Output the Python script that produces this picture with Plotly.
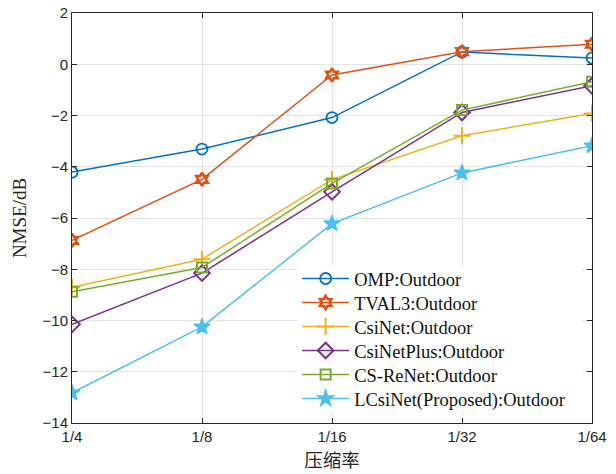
import plotly.graph_objects as go

categories = ["1/4", "1/8", "1/16", "1/32", "1/64"]
omp = [-4.21, -3.31, -2.08, 0.48, 0.24]
tval3 = [-6.87, -4.49, -0.42, 0.49, 0.78]
csinet = [-8.70, -7.61, -4.50, -2.79, -1.92]
csinetplus = [-10.15, -8.15, -4.98, -1.88, -0.84]
csrenet = [-8.88, -7.93, -4.65, -1.79, -0.68]
lcsinet = [-12.82, -10.25, -6.22, -4.24, -3.18]

series = [
    ("OMP:Outdoor", omp, "#0072BD", "circle-open", 11, 1.8),
    ("TVAL3:Outdoor", tval3, "#D95319", "hexagram-open", 10, 2.6),
    ("CsiNet:Outdoor", csinet, "#EDB120", "cross-thin-open", 12, 2),
    ("CsiNetPlus:Outdoor", csinetplus, "#7E2F8E", "diamond-open", 12, 2),
    ("CS-ReNet:Outdoor", csrenet, "#77AC30", "square-open", 10, 2),
    ("LCsiNet(Proposed):Outdoor", lcsinet, "#4DBEEE", "star", 12, 1.5),
]

# plot area in pixels (for legend placement)
PLOT_TOP, PLOT_BOTTOM = 13, 423
PLOT_H = PLOT_BOTTOM - PLOT_TOP
legend_rows_px = [279, 303, 327, 351, 375, 399]

fig = go.Figure()
legend_font = dict(family="Liberation Serif, Times New Roman, serif", size=18.5, color="#111111")
layout_legends = {}
for i, (name, vals, color, sym, sz, lw) in enumerate(series):
    key = "legend" if i == 0 else f"legend{i+1}"
    fig.add_trace(go.Scatter(
        x=categories, y=vals, name=name, mode="lines+markers",
        line=dict(color=color, width=1.5),
        marker=dict(symbol=sym, size=sz, color=color,
                    line=dict(color=color, width=lw)),
        legend=key,
    ))
    layout_legends[key] = dict(
        x=0.433, y=(PLOT_BOTTOM - legend_rows_px[i]) / PLOT_H,
        xanchor="left", yanchor="middle",
        bgcolor="rgba(0,0,0,0)", borderwidth=0,
        font=legend_font, itemwidth=47,
    )

axis_common = dict(
    showline=True, linecolor="#262626", linewidth=1, mirror="ticks",
    ticks="inside", ticklen=5, tickcolor="#262626",
    showgrid=True, gridcolor="#e3e3e3", gridwidth=1,
    zeroline=False, automargin=False,
    tickfont=dict(family="Arial, Liberation Sans, sans-serif", size=15, color="#262626"),
)

fig.update_layout(
    width=616, height=474,
    margin=dict(l=71.5, r=24, t=13, b=51),
    paper_bgcolor="white", plot_bgcolor="white",
    xaxis=dict(type="category", range=[0, 4], **axis_common,
               title=dict(text="压缩率", standoff=10,
                          font=dict(family="Noto Sans CJK SC", size=18.5, color="#262626"))),
    yaxis=dict(range=[-14, 2], dtick=2, **axis_common,
               title=dict(text="NMSE/dB", standoff=10,
                          font=dict(family="Liberation Serif, Times New Roman, serif", size=19, color="#262626"))),
    showlegend=True,
    **layout_legends,
)

# white legend box background
fig.add_shape(type="rect", xref="paper", yref="paper",
              x0=0.433, x1=(582 - 71.5) / 520.5,
              y0=(PLOT_BOTTOM - 412) / PLOT_H, y1=(PLOT_BOTTOM - 265) / PLOT_H,
              fillcolor="white", line=dict(width=0), layer="above")

fig.write_html("out.html", config={"displayModeBar": False},
               post_script="document.body.style.margin='0';document.body.style.overflow='hidden';")
